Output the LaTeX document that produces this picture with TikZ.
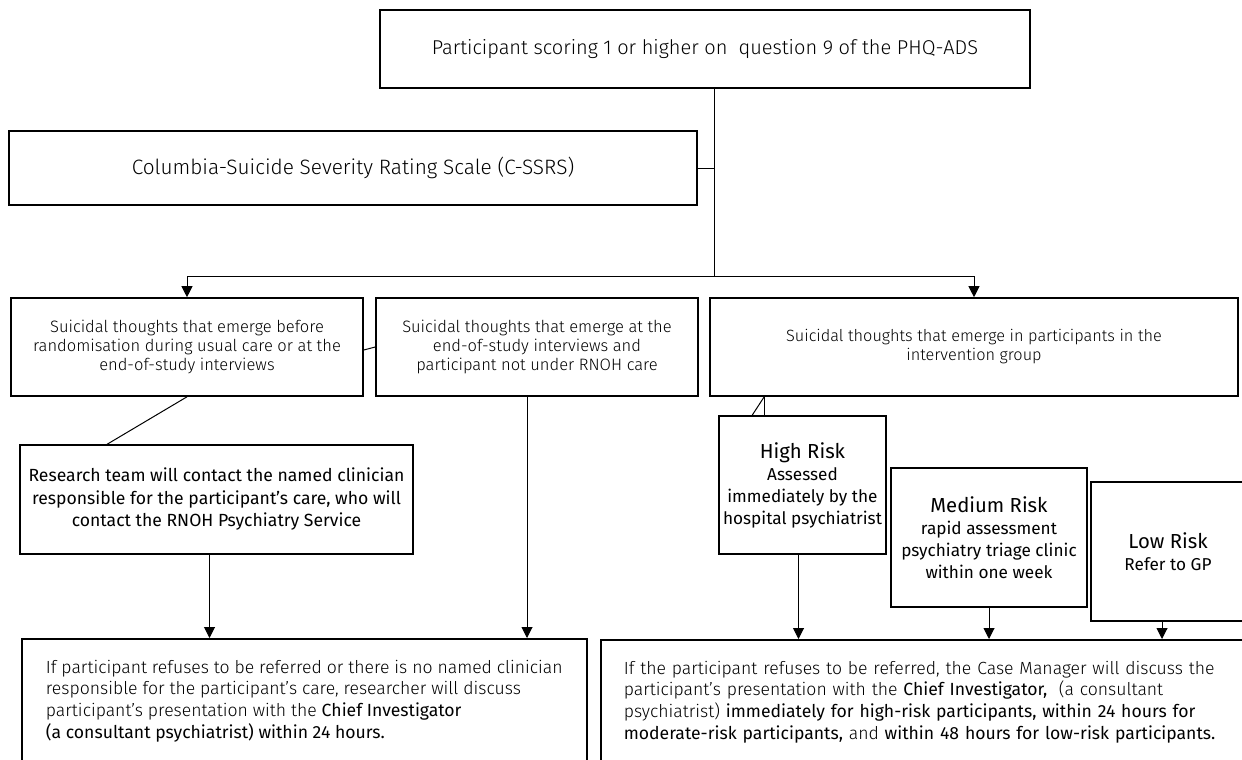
\documentclass[tikz,border=0pt]{standalone}
\usepackage{fontspec}
\setmainfont{Fira Sans Light}[BoldFont={Fira Sans}]
\usetikzlibrary{arrows.meta}

\begin{document}
\begin{tikzpicture}[x=1pt,y=-1pt,>={Triangle[length=11pt,width=11pt]},
  box/.style={draw,line width=1.6pt,inner sep=0pt,align=center},
  conn/.style={line width=1pt}]
\useasboundingbox (0,0) rectangle (1242,760);
\clip (0,0) rectangle (1242,760);

% top of the chart
\node[box,minimum width=650,minimum height=78,font=\fontsize{20}{23}\selectfont] (phq) at (705,49) {Participant scoring 1 or higher on \ question 9 of the PHQ-ADS};
\node[box,minimum width=688,minimum height=74,font=\fontsize{20.8}{23}\selectfont] (cssrs) at (353,168) {Columbia-Suicide Severity Rating Scale (C-SSRS)};
\coordinate (split) at (714,276);

% three groups
\node[box,minimum width=352,minimum height=98,font=\fontsize{16.5}{19}\selectfont] (before) at (187,347) {Suicidal thoughts that emerge before\\randomisation during usual care or at the\\end-of-study interviews};
\node[box,minimum width=322,minimum height=98,font=\fontsize{16.5}{19}\selectfont] (endstudy) at (537,347) {Suicidal thoughts that emerge at the\\end-of-study interviews and\\participant not under RNOH care};
\node[box,minimum width=528,minimum height=98,font=\fontsize{16.3}{19}\selectfont] (interv) at (974,347) {Suicidal thoughts that emerge in participants in the\\intervention group};

\node[box,minimum width=393,minimum height=109,font=\bfseries\fontsize{17.6}{22.5}\selectfont] (research) at (216.5,499.5) {Research team will contact the named clinician\\responsible for the participant's care, who will\\contact the RNOH Psychiatry Service};

% risk levels
\node[box,minimum width=167,minimum height=138,font=\bfseries\fontsize{17.2}{22}\selectfont] (high) at (802.5,485) {{\fontsize{20.3}{24}\selectfont High Risk}\\Assessed\\immediately by the\\hospital psychiatrist};
\node[box,minimum width=196,minimum height=139,font=\bfseries\fontsize{17.2}{22}\selectfont] (medium) at (989,537.5) {{\fontsize{20.3}{24}\selectfont Medium Risk}\\rapid assessment\\psychiatry triage clinic\\within one week};
\node[box,minimum width=154,minimum height=139,font=\bfseries\fontsize{17.2}{22}\selectfont] (low) at (1168,551.5) {{\fontsize{20.3}{24}\selectfont Low Risk}\\Refer to GP};

% outcomes
\node[box,anchor=north west,minimum width=565,minimum height=124,align=left,font=\fontsize{17.6}{21.7}\selectfont] (refuseL) at (21,638) {If participant refuses to be referred or there is no named clinician\\responsible for the participant's care, researcher will discuss\\participant's presentation with the \textbf{Chief Investigator}\\\textbf{(a consultant psychiatrist) within 24 hours.}};
\node[box,anchor=north west,inner xsep=23pt,text width=620,minimum height=124,align=left,font=\fontsize{17.6}{21.7}\selectfont] (refuseR) at (600,639) {If the participant refuses to be referred, the Case Manager will discuss the\\participant's presentation with the \textbf{Chief Investigator,} \ (a consultant\\psychiatrist) \textbf{immediately for high-risk participants, within 24 hours for}\\\textbf{moderate-risk participants,} and \textbf{within 48 hours for low-risk participants.}};

% connectors
\draw[conn] (phq.south -| split) -- (split);
\draw[conn] (cssrs.east) -- (cssrs.east -| split);
\draw[conn,->] (split) -| (before.north);
\draw[conn,->] (split) -| (interv.north);
\draw[conn] ([yshift=-3pt]before.east) -- (endstudy.west);
\draw[conn] (before.south) -- ([xshift=88pt]research.north west);
\draw[conn,->] ([xshift=-7pt]research.south) -- ([xshift=-7pt]research.south |- refuseL.north);
\draw[conn,->] ([xshift=-10pt]endstudy.south) -- ([xshift=-10pt]endstudy.south |- refuseL.north);
\coordinate (hp) at ([xshift=55pt]interv.south west);
\draw[conn] (hp) -- (hp |- high.north);
\draw[conn] (hp) -- ([xshift=34pt]high.north west);
\draw[conn,->] ([xshift=-4pt]high.south) -- ([xshift=-4pt]high.south |- refuseR.north);
\draw[conn,->] (medium.south) -- (medium.south |- refuseR.north);
\draw[conn,->] ([xshift=-6pt]low.south) -- ([xshift=-6pt]low.south |- refuseR.north);
\end{tikzpicture}
\end{document}
